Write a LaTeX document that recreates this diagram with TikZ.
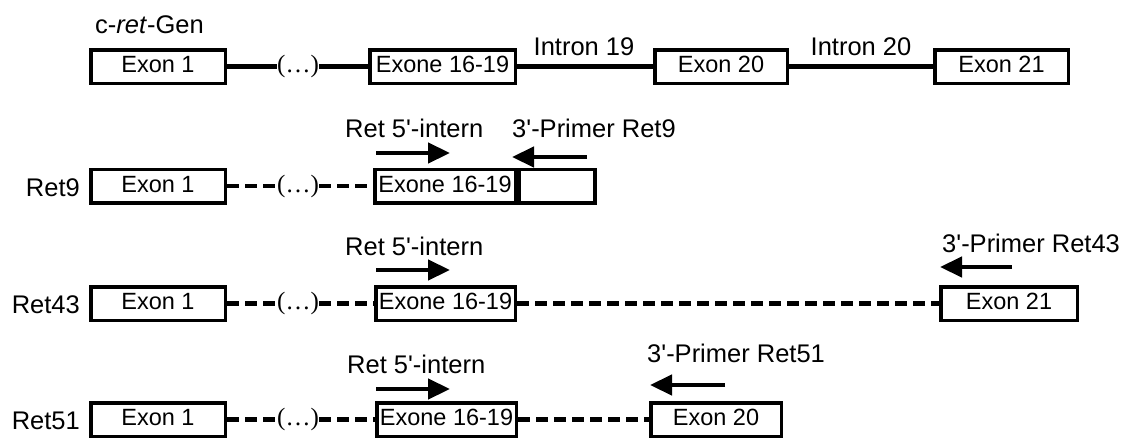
\documentclass[tikz,border=0pt]{standalone}
\usepackage{fontspec}
\newfontfamily\arialf{Liberation Sans}
\newfontfamily\tnrf{Liberation Serif}
\usetikzlibrary{arrows.meta}
\begin{document}
\begin{tikzpicture}[x=1pt,y=-1pt,
  exon/.style={draw, line width=3.5pt, minimum height=33.5pt, inner sep=0pt, text depth=4pt, font=\arialf\fontsize{23.5}{28}\selectfont},
  lab/.style={inner sep=0pt, font=\arialf\fontsize{25.5}{30}\selectfont},
  dotsnode/.style={inner sep=0pt, font=\tnrf\fontsize{25}{28}\selectfont},
  solidline/.style={line width=4.5pt},
  dashline/.style={line width=4.5pt, dash pattern=on 12pt off 6pt},
  primer/.style={line width=4.5pt, -{Triangle[length=22pt,width=20pt]}}]
\useasboundingbox (0,0) rectangle (1125,439);

% Row 1: c-ret-Gen
\node[lab, anchor=base west] (gen) at (95,33) {c-\textit{ret}-Gen};
\node[exon, minimum width=134.5pt] (a1) at (158,66.5) {Exon 1};
\node[dotsnode] (ad) at (298,66.5) {(…)};
\node[exon, minimum width=145.5pt] (a16) at (442.5,66.5) {Exone 16-19};
\node[exon, minimum width=132.5pt] (a20) at (721,66.5) {Exon 20};
\node[exon, minimum width=133.5pt] (a21) at (1001.5,66.5) {Exon 21};
\node[lab, anchor=base] (i19) at (584,55) {Intron 19};
\node[lab, anchor=base] (i20) at (861,55) {Intron 20};
\draw[solidline] (a1) -- (ad);
\draw[solidline] (ad) -- (a16);
\draw[solidline] (a16) -- (a20);
\draw[solidline] (a20) -- (a21);

% Row 2: Ret9
\node[lab, anchor=base east] (r9) at (80,196) {Ret9};
\node[exon, minimum width=134.5pt] (b1) at (158,186) {Exon 1};
\node[dotsnode] (bd) at (298,186) {(…)};
\node[exon, minimum width=140.5pt] (b16) at (445,186) {Exone 16-19};
\node[exon, minimum width=76pt, anchor=west] (b2) at (b16.east) {};
\draw[dashline] (b1) -- (bd);
\draw[dashline] (bd) -- (b16);
\node[lab, anchor=base west] (p9a) at (345,137) {Ret 5'-intern};
\node[lab, anchor=base west] (p9b) at (512,137) {3'-Primer Ret9};
\coordinate (f9s) at (376,153);
\coordinate (f9e) at (450,153);
\coordinate (g9s) at (587,157);
\coordinate (g9e) at (512,157);
\draw[primer] (f9s) -- (f9e);
\draw[primer] (g9s) -- (g9e);

% Row 3: Ret43
\node[lab, anchor=base east] (r43) at (80,313.5) {Ret43};
\node[exon, minimum width=134.5pt] (c1) at (158,303.5) {Exon 1};
\node[dotsnode] (cd) at (298,303.5) {(…)};
\node[exon, minimum width=139.5pt] (c16) at (445.5,303.5) {Exone 16-19};
\node[exon, minimum width=136.5pt] (c21) at (1009,303.5) {Exon 21};
\draw[dashline] (c1) -- (cd);
\draw[dashline] (cd) -- (c16);
\draw[dashline] (c16) -- (c21);
\node[lab, anchor=base west] (p43a) at (345,255) {Ret 5'-intern};
\node[lab, anchor=base west] (p43b) at (942,252) {3'-Primer Ret43};
\coordinate (f43s) at (376,270);
\coordinate (f43e) at (450,270);
\coordinate (g43s) at (1012,267);
\coordinate (g43e) at (940,267);
\draw[primer] (f43s) -- (f43e);
\draw[primer] (g43s) -- (g43e);

% Row 4: Ret51
\node[lab, anchor=base east] (r51) at (80,429.5) {Ret51};
\node[exon, minimum width=134.5pt] (d1) at (158,419.5) {Exon 1};
\node[dotsnode] (dd) at (298,419.5) {(…)};
\node[exon, minimum width=139.5pt] (d16) at (446.5,419.5) {Exone 16-19};
\node[exon, minimum width=130.5pt] (d20) at (716,419.5) {Exon 20};
\draw[dashline] (d1) -- (dd);
\draw[dashline] (dd) -- (d16);
\draw[dashline] (d16) -- (d20);
\node[lab, anchor=base west] (p51a) at (347,373) {Ret 5'-intern};
\node[lab, anchor=base west] (p51b) at (647,362) {3'-Primer Ret51};
\coordinate (f51s) at (376,389);
\coordinate (f51e) at (450,389);
\coordinate (g51s) at (725,385);
\coordinate (g51e) at (650,385);
\draw[primer] (f51s) -- (f51e);
\draw[primer] (g51s) -- (g51e);
\end{tikzpicture}
\end{document}
